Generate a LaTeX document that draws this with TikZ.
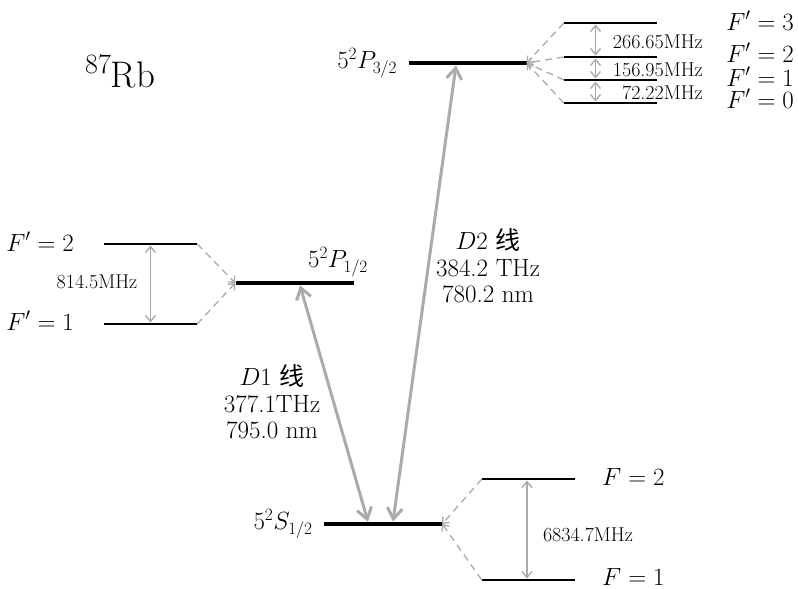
\documentclass[tikz,border=0pt]{standalone}
\usepackage{amsmath}
\usepackage{fontspec}
\newfontfamily\cjk{Noto Sans CJK SC}
\usepackage{tikz}
\usetikzlibrary{arrows.meta,positioning}
\definecolor{linegray}{HTML}{ABABAB}

\begin{document}
\begin{tikzpicture}[
  x=1pt,y=-1pt,
  main/.style={fill=black,inner sep=0,minimum width=118pt,minimum height=4.2pt},
  sub/.style={fill=black,inner sep=0,minimum width=93pt,minimum height=2.6pt},
  lbl/.style={inner sep=0,font=\fontsize{23}{28}\selectfont},
  freq/.style={inner sep=0,font=\fontsize{20}{24}\selectfont},
  line/.style={inner sep=0,align=center,font=\fontsize{25}{26.5}\selectfont},
  split/.style={draw=linegray,line width=1.3pt,dash pattern=on 7pt off 5pt,-{Straight Barb[length=5pt,width=9pt]}},
  hfs/.style={draw=linegray,line width=1.4pt,{Straight Barb[length=6pt,width=10pt]}-{Straight Barb[length=6pt,width=10pt]}},
  opt/.style={draw=linegray,line width=3pt,{Straight Barb[length=11pt,width=15pt]}-{Straight Barb[length=11pt,width=15pt]}}
]
  \useasboundingbox (0,0) rectangle (798,589);
  % ground state
  \node[main] (S12) at (383,524) {};
  \node[sub] (S12F2) at (528.5,479) {};
  \node[sub] (S12F1) at (528.5,580) {};
  % D1 excited state
  \node[main] (P12) at (294.5,283) {};
  \node[sub] (P12F2) at (150.5,244) {};
  \node[sub] (P12F1) at (150.5,324) {};
  % D2 excited state
  \node[main] (P32) at (467.5,63) {};
  \node[sub] (P32F3) at (610.5,23) {};
  \node[sub] (P32F2) at (610.5,57) {};
  \node[sub] (P32F1) at (610.5,80) {};
  \node[sub] (P32F0) at (610.5,103) {};

  % labels
  \node[inner sep=0,anchor=base west,font=\fontsize{37}{42}\selectfont] (Rb) at (85,87)
    {\raisebox{14pt}{\fontsize{28}{32}\selectfont 87}Rb};
  \node[lbl,left=11pt of S12] (S12lbl) {$5^2S_{1/2}$};
  \node[lbl,left=11pt of P32] (P32lbl) {$5^2P_{3/2}$};
  \node[lbl] (P12lbl) at (338,262) {$5^2P_{1/2}$};
  \node[lbl,anchor=base west] (S12F2lbl) at (602,485) {$F=2$};
  \node[lbl,anchor=base west] (S12F1lbl) at (602,585) {$F=1$};
  \node[lbl,anchor=base east] (P12F2lbl) at (74,251) {$F'=2$};
  \node[lbl,anchor=base east] (P12F1lbl) at (74,330) {$F'=1$};
  \node[lbl,anchor=base east] (P32F3lbl) at (794,30) {$F'=3$};
  \node[lbl,anchor=base east] (P32F2lbl) at (794,62) {$F'=2$};
  \node[lbl,anchor=base east] (P32F1lbl) at (794,86) {$F'=1$};
  \node[lbl,anchor=base east] (P32F0lbl) at (794,108) {$F'=0$};
  \node[freq] (sgap) at (588,535) {6834.7MHz};
  \node[freq] (p1gap) at (97,282) {814.5MHz};
  \node[freq,anchor=east] (p3gap32) at (703,42) {266.65MHz};
  \node[freq,anchor=east] (p3gap21) at (703,70) {156.95MHz};
  \node[freq,anchor=east] (p3gap10) at (703,93) {72.22MHz};
  \node[line] (D1lbl) at (272,402) {$D$1 {\cjk 线}\\377.1THz\\795.0 nm};
  \node[line] (D2lbl) at (488,266) {$D$2 {\cjk 线}\\384.2 THz\\780.2 nm};

  % hyperfine splitting
  \draw[split] (S12F2.west) -- (S12.east);
  \draw[split] (S12F1.west) -- (S12.east);
  \draw[split] (P12F2.east) -- (P12.west);
  \draw[split] (P12F1.east) -- (P12.west);
  \foreach \f in {F3,F2,F1,F0}
    \draw[split] (P32\f.west) -- (P32.east);

  % intervals
  \draw[hfs] ([xshift=-1.5pt]S12F2.south) -- ([xshift=-1.5pt]S12F1.north);
  \draw[hfs] (P12F2.south) -- (P12F1.north);
  \draw[hfs] ([xshift=-15pt]P32F3.south) -- ([xshift=-15pt]P32F2.north);
  \draw[hfs] ([xshift=-15pt]P32F2.south) -- ([xshift=-15pt]P32F1.north);
  \draw[hfs] ([xshift=-15pt]P32F1.south) -- ([xshift=-15pt]P32F0.north);

  % optical transitions
  \draw[opt] ([xshift=5.5pt]P12.south) -- ([xshift=-15pt]S12.north);
  \draw[opt] ([xshift=-11.5pt]P32.south) -- ([xshift=10pt]S12.north);
\end{tikzpicture}
\end{document}
